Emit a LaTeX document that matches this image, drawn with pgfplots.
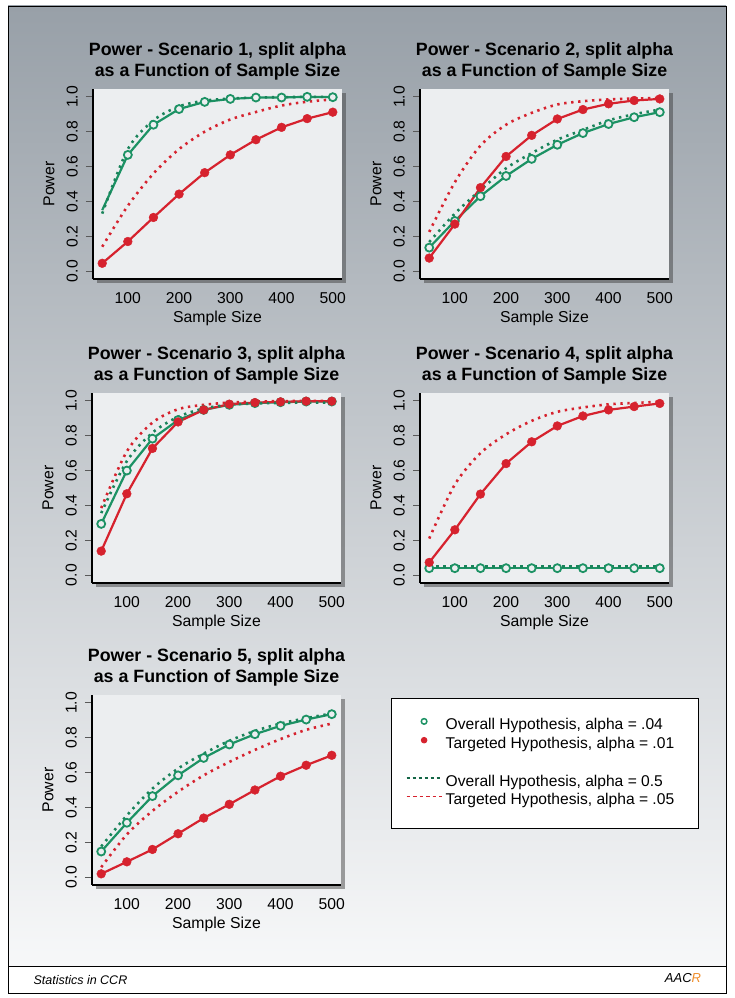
\documentclass[border=0pt]{standalone}
\usepackage{fontspec}
\setmainfont{Liberation Sans}
\usepackage{pgfplots}
\pgfplotsset{compat=1.18}
\usepackage{pgfplotstable}
\usetikzlibrary{shadows}

\definecolor{ovgreen}{RGB}{28,146,100}
\definecolor{tgred}{RGB}{214,34,46}
\definecolor{panelbg}{RGB}{236,238,240}
\definecolor{bgtop}{RGB}{152,160,168}
\definecolor{bgmid}{RGB}{180,186,193}
\definecolor{bgbot}{RGB}{247,248,249}
\definecolor{logoorange}{RGB}{240,140,40}

% n = sample size; os/ts = overall/targeted (split alpha), od/td = overall/targeted (dotted)
\pgfplotstableread{
n   os    ts    od    td
50  0.350 0.045 0.330 0.140
100 0.667 0.170 0.700 0.375
150 0.840 0.308 0.865 0.560
200 0.930 0.442 0.945 0.700
250 0.971 0.565 0.978 0.800
300 0.988 0.667 0.990 0.870
350 0.996 0.754 0.996 0.913
400 0.996 0.825 0.998 0.950
450 1.000 0.875 1.000 0.972
500 0.998 0.912 1.000 0.985
}\scenA
\pgfplotstableread{
n   os    ts    od    td
50  0.135 0.075 0.167 0.225
100 0.288 0.270 0.330 0.510
150 0.430 0.479 0.465 0.720
200 0.546 0.658 0.590 0.840
250 0.644 0.779 0.677 0.908
300 0.725 0.873 0.754 0.956
350 0.792 0.927 0.810 0.975
400 0.844 0.960 0.865 0.985
450 0.883 0.979 0.900 0.990
500 0.912 0.988 0.927 0.994
}\scenB
\pgfplotstableread{
n   os    ts    od    td
50  0.294 0.138 0.356 0.385
100 0.600 0.467 0.654 0.710
150 0.783 0.727 0.817 0.875
200 0.890 0.879 0.908 0.952
250 0.948 0.948 0.956 0.977
300 0.977 0.981 0.977 0.990
350 0.987 0.990 0.985 0.996
400 0.992 0.994 0.988 0.998
450 0.996 0.998 0.990 1.000
500 0.996 0.998 0.990 1.000
}\scenC
\pgfplotstableread{
n   os    ts    od    td
50  0.040 0.073 0.050 0.210
100 0.040 0.260 0.050 0.520
150 0.040 0.465 0.050 0.700
200 0.040 0.640 0.050 0.808
250 0.040 0.765 0.050 0.885
300 0.040 0.856 0.050 0.937
350 0.040 0.913 0.050 0.962
400 0.040 0.948 0.050 0.980
450 0.040 0.967 0.050 0.988
500 0.040 0.985 0.050 0.994
}\scenD
\pgfplotstableread{
n   os    ts    od    td
50  0.147 0.019 0.176 0.057
100 0.312 0.088 0.354 0.245
150 0.465 0.159 0.508 0.380
200 0.584 0.249 0.623 0.490
250 0.684 0.339 0.709 0.584
300 0.761 0.418 0.782 0.661
350 0.820 0.500 0.839 0.730
400 0.868 0.579 0.881 0.792
450 0.904 0.642 0.912 0.845
500 0.935 0.699 0.939 0.881
}\scenE

\pgfplotsset{
  panel/.style={
    scale only axis, width=249pt, height=190pt, anchor=south west,
    xmin=32, xmax=518, ymin=-0.045, ymax=1.045,
    axis x line=bottom, axis y line=left,
    axis line style={line width=2.5pt, black, -},
    axis background/.style={fill=panelbg,
      drop shadow={shadow xshift=4pt, shadow yshift=-4pt, opacity=0.45, fill=black!80}},
    xtick={100,200,300,400,500}, xticklabels={100,200,300,400,500},
    ytick={0,0.2,0.4,0.6,0.8,1}, yticklabels={0.0,0.2,0.4,0.6,0.8,1.0},
    /pgf/number format/assume math mode=true,
    tick align=outside, major tick length=7pt,
    xtick style={draw=none},
    ytick style={line width=0.8pt, black!65},
    ticklabel style={font=\fontsize{15.7}{17}\selectfont},
    yticklabel style={rotate=90, anchor=south, inner ysep=8pt},
    xticklabel style={yshift=-3pt},
    xlabel={Sample Size}, ylabel={Power},
    every axis x label/.style={at={(axis description cs:0.5,-0.21)}, anchor=center,
      font=\fontsize{15.8}{18}\selectfont},
    every axis y label/.style={at={(axis description cs:-0.177,0.5)}, rotate=90, anchor=center,
      font=\fontsize{15.8}{18}\selectfont},
    title style={font=\bfseries\fontsize{17.8}{21}\selectfont, align=center,
      at={(axis description cs:0.5,1)}, anchor=south, inner sep=0pt, yshift=2.5pt},
    clip=false,
  },
  ovsolid/.style={ovgreen, line width=2.2pt, forget plot, mark=*, mark size=4pt,
    mark options={fill=panelbg, draw=ovgreen, line width=1.8pt, solid}},
  tgsolid/.style={tgred, line width=2.2pt, forget plot, mark=*, mark size=4.4pt,
    mark options={fill=tgred, draw=tgred, line width=0.4pt, solid}},
  ovdot/.style={ovgreen!90!black, line width=2.6pt, forget plot, smooth, no marks,
    dash pattern=on 2.4pt off 4.6pt},
  tgdot/.style={tgred, line width=2.6pt, forget plot, smooth, no marks,
    dash pattern=on 2.4pt off 4.6pt},
}

\begin{document}
\begin{tikzpicture}[x=1pt,y=1pt]
\path (0,0) rectangle (734,998);
% page frame and background
\shade[top color=bgtop, middle color=bgmid, bottom color=bgbot] (8,32) rectangle (726,992);
\fill[white] (8,5) rectangle (726,32);
\draw[line width=0.8pt] (8,32) -- (726,32);
\draw[line width=0.8pt] (8,5) rectangle (726,992);
\node[anchor=west, font=\itshape\fontsize{12.5}{14}\selectfont] at (30,17.5) {Statistics in CCR};
\node[font=\itshape\fontsize{13}{14}\selectfont] at (683,19.5) {AAC\textcolor{logoorange}{R}};

\begin{axis}[panel, at={(93pt,719pt)},
  title={Power - Scenario 1, split alpha\\as a Function of Sample Size}]
\addplot[ovsolid, mark indices={2,3,4,5,6,7,8,9,10}] table[x=n,y=os] {\scenA};
\addplot[tgsolid] table[x=n,y=ts] {\scenA};
\addplot[ovdot] table[x=n,y=od] {\scenA};
\addplot[tgdot] table[x=n,y=td] {\scenA};
\end{axis}

\begin{axis}[panel, at={(420pt,719pt)},
  title={Power - Scenario 2, split alpha\\as a Function of Sample Size}]
\addplot[ovsolid] table[x=n,y=os] {\scenB};
\addplot[tgsolid] table[x=n,y=ts] {\scenB};
\addplot[ovdot] table[x=n,y=od] {\scenB};
\addplot[tgdot] table[x=n,y=td] {\scenB};
\end{axis}

\begin{axis}[panel, at={(92pt,415pt)},
  title={Power - Scenario 3, split alpha\\as a Function of Sample Size}]
\addplot[ovsolid] table[x=n,y=os] {\scenC};
\addplot[tgsolid] table[x=n,y=ts] {\scenC};
\addplot[ovdot] table[x=n,y=od] {\scenC};
\addplot[tgdot] table[x=n,y=td] {\scenC};
\end{axis}

\begin{axis}[panel, at={(420pt,415pt)},
  title={Power - Scenario 4, split alpha\\as a Function of Sample Size}]
\addplot[ovsolid] table[x=n,y=os] {\scenD};
\addplot[tgsolid] table[x=n,y=ts] {\scenD};
\addplot[ovdot] table[x=n,y=od] {\scenD};
\addplot[tgdot] table[x=n,y=td] {\scenD};
\end{axis}

\begin{axis}[panel, at={(92pt,113pt)},
  title={Power - Scenario 5, split alpha\\as a Function of Sample Size},
  legend style={at={(axis description cs:1.201,0.984)}, anchor=north west,
    draw=black, line width=0.9pt, fill=white, inner xsep=14pt, inner ysep=20pt,
    row sep=4pt, font=\fontsize{15.6}{18}\selectfont,
    nodes={inner ysep=0pt, inner xsep=3pt, text height=11.3pt, text depth=3.5pt}},
  legend cell align=left,
  legend image code/.code={\draw[mark repeat=2, mark phase=2, yshift=4.5pt, #1]
    plot coordinates {(0pt,0pt) (17.5pt,0pt) (35pt,0pt)};}]
\addplot[ovsolid] table[x=n,y=os] {\scenE};
\addplot[tgsolid] table[x=n,y=ts] {\scenE};
\addplot[ovdot] table[x=n,y=od] {\scenE};
\addplot[tgdot] table[x=n,y=td] {\scenE};
\addlegendimage{only marks, mark=*, mark size=2.8pt, mark options={fill=white, draw=ovgreen, line width=1.5pt}}
\addlegendentry{Overall Hypothesis, alpha = .04}
\addlegendimage{only marks, mark=*, mark size=2.8pt, tgred}
\addlegendentry{Targeted Hypothesis, alpha = .01\hspace*{7pt}}
\addlegendimage{empty legend}
\addlegendentry{\mbox{}}
\addlegendimage{ovgreen!70!black, line width=2.2pt, dash pattern=on 3pt off 3pt}
\addlegendentry{Overall Hypothesis, alpha = 0.5}
\addlegendimage{tgred, line width=0.9pt, dash pattern=on 3.5pt off 3pt}
\addlegendentry{Targeted Hypothesis, alpha = .05}
\end{axis}
\end{tikzpicture}
\end{document}
